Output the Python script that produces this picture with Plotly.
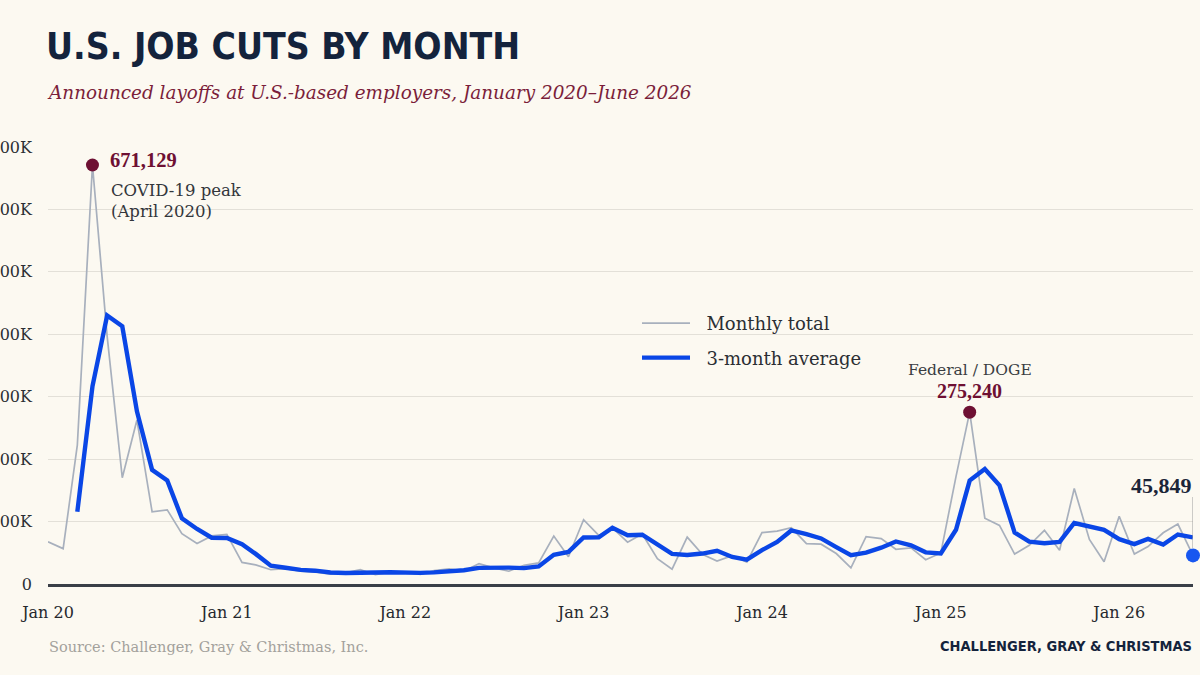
import pandas as pd
import plotly.graph_objects as go

# ---------------- data ----------------
months = pd.date_range("2020-01-01", "2026-06-01", freq="MS")

monthly_total = [
    67735, 56660, 222288, 671129, 397016, 170219, 262649, 115762, 118804, 80666, 64797, 77030,   # 2020
    79552, 34531, 30603, 22913, 24586, 20476, 18942, 15723, 17895, 22822, 14875, 19052,          # 2021
    19064, 15245, 21387, 24286, 20712, 32517, 25810, 20485, 29989, 33843, 76835, 43651,          # 2022
    102943, 77770, 89703, 66995, 80089, 40709, 23697, 75151, 47457, 36836, 45510, 34817,         # 2023
    82307, 84638, 90309, 64789, 63816, 48786, 25885, 75891, 72821, 55597, 57727, 38792,          # 2024
    49795, 172017, 275240, 105441, 93816, 47999, 62075, 85979, 54064, 153074, 71321, 35553,      # 2025
    108435, 48000, 60000, 82000, 96000, 45849,                                                   # 2026
]

three_month_avg = [
    None, None, 115561, 316692, 430144, 412788, 276628, 182877, 165738, 105077, 88089, 74164,
    73793, 63704, 48229, 29349, 26034, 22658, 21335, 18380, 17520, 18813, 18531, 18916,
    17664, 17787, 18565, 20306, 22128, 25838, 26346, 26271, 25428, 28106, 46889, 51443,
    74476, 74788, 90139, 78156, 78929, 62598, 48165, 46519, 48768, 53148, 43268, 39054,
    54211, 67254, 85751, 79912, 72971, 59130, 46162, 50187, 58199, 68103, 62048, 50705,
    48771, 86868, 165684, 184233, 158166, 82419, 67963, 65351, 67373, 97706, 92820, 86649,
    71770, 63996, 72145, 63333, 79333, 74616,
]

y_tick_vals = [0, 100000, 200000, 300000, 400000, 500000, 600000, 700000]
y_tick_text = ["0", "100K", "200K", "300K", "400K", "500K", "600K", "700K"]
x_tick_vals = ["2020-01-01", "2021-01-01", "2022-01-01", "2023-01-01",
               "2024-01-01", "2025-01-01", "2026-01-01"]
x_tick_text = ["Jan 20", "Jan 21", "Jan 22", "Jan 23", "Jan 24", "Jan 25", "Jan 26"]

peak_idx = [3, 62]          # April 2020, March 2025
last_idx = len(monthly_total) - 1

# ---------------- style ----------------
W, H = 1200, 675
L, R, T, B = 48, 7, 147, 91
BG = "#FCF9F1"
NAVY = "#14233C"
MAROON = "#6E1033"
BLUE = "#0A46E6"
GRAY_LINE = "#A8B0BD"
SERIF = "DejaVu Serif"
NUMF = "Liberation Serif"
NARROW = "DejaVu Sans Condensed"

pw, ph = W - L - R, H - T - B


def px(x):
    return (x - L) / pw


def py(y):
    return (H - B - y) / ph


fig = go.Figure()

fig.add_trace(go.Scatter(
    x=months, y=monthly_total, mode="lines", name="\u00a0\u00a0Monthly total",
    line=dict(color=GRAY_LINE, width=1.7), legendgroup="a",
    hoverinfo="skip",
))
fig.add_trace(go.Scatter(
    x=months, y=three_month_avg, mode="lines", name="\u00a0\u00a03-month average",
    line=dict(color=BLUE, width=4.4), legendgroup="b",
    hoverinfo="skip",
))
fig.add_trace(go.Scatter(
    x=[months[i] for i in peak_idx], y=[monthly_total[i] for i in peak_idx],
    mode="markers", marker=dict(color=MAROON, size=13), showlegend=False,
    cliponaxis=False, hoverinfo="skip",
))
fig.add_trace(go.Scatter(
    x=[months[last_idx]], y=[monthly_total[last_idx]],
    mode="markers", marker=dict(color="#1857F0", size=14), showlegend=False,
    cliponaxis=False, hoverinfo="skip",
))

annotations = [
    # subtitle
    dict(text="<i>Announced layoffs at U.S.-based employers, January 2020–June 2026</i>",
         xref="paper", yref="paper", x=px(45), y=py(93), xanchor="left", yanchor="middle",
         showarrow=False, font=dict(family=SERIF, size=18.4, color="#7B1E3A")),
    # source
    dict(text="Source: Challenger, Gray & Christmas, Inc.",
         xref="paper", yref="paper", x=px(47), y=py(647), xanchor="left", yanchor="middle",
         showarrow=False, font=dict(family=SERIF, size=14.5, color="#A3A19C")),
    # brand
    dict(text="<b>CHALLENGER, GRAY & CHRISTMAS</b>",
         xref="paper", yref="paper", x=px(1194), y=py(646), xanchor="right", yanchor="middle",
         showarrow=False, font=dict(family=NARROW, size=14.5, color=NAVY)),
    # covid peak
    dict(text="<b>{:,}</b>".format(monthly_total[3]),
         xref="x", yref="y", x=months[3], y=monthly_total[3], xshift=16, yshift=5,
         xanchor="left", yanchor="middle", showarrow=False,
         font=dict(family=NUMF, size=20.5, color=MAROON)),
    dict(text="COVID-19 peak<br>(April 2020)",
         xref="paper", yref="paper", x=px(109), y=py(201), xanchor="left", yanchor="middle",
         align="left", showarrow=False,
         font=dict(family=SERIF, size=16.5, color="#33363B")),
    # DOGE
    dict(text="Federal / DOGE",
         xref="x", yref="paper", x=months[62], y=py(370), xanchor="center", yanchor="middle",
         showarrow=False, font=dict(family=SERIF, size=15.5, color="#3A3D42")),
    dict(text="<b>{:,}</b>".format(monthly_total[62]),
         xref="x", yref="paper", x=months[62], y=py(391), xanchor="center", yanchor="middle",
         showarrow=False, font=dict(family=NUMF, size=20, color=MAROON)),
    # last value
    dict(text="<b>{:,}</b>".format(monthly_total[last_idx]),
         xref="paper", yref="paper", x=px(1194), y=py(485), xanchor="right", yanchor="middle",
         showarrow=False, font=dict(family=NUMF, size=22, color="#1B2538")),
]

fig.update_layout(
    width=W, height=H,
    margin=dict(l=L, r=R, t=T, b=B, autoexpand=False),
    paper_bgcolor=BG, plot_bgcolor=BG,
    title=dict(text="<b>U.S. JOB CUTS BY MONTH</b>", x=46 / W, xanchor="left",
               xref="container", y=1 - 46 / H, yanchor="middle", yref="container",
               font=dict(family=NARROW, size=37, color=NAVY)),
    showlegend=True,
    legend=dict(x=px(637), y=py(305), xanchor="left", yanchor="top",
                bgcolor="rgba(0,0,0,0)", font=dict(family=SERIF, size=18, color="#2B2E33"),
                itemwidth=48, tracegroupgap=8),
    annotations=annotations,
    shapes=[dict(type="line", xref="x", yref="paper", x0=months[last_idx], x1=months[last_idx],
                 y0=py(548), y1=py(497), line=dict(color="#9C9C9C", width=1))],
    xaxis=dict(type="date", range=[months[0], months[last_idx]],
               tickvals=x_tick_vals, ticktext=x_tick_text, showgrid=False,
               showline=True, linecolor="#3A3F47", linewidth=2.5, ticks="",
               ticklabelstandoff=12, zeroline=False,
               tickfont=dict(family=SERIF, size=16, color="#25282D"), automargin=False),
    yaxis=dict(range=[0, 700000], tickvals=y_tick_vals, ticktext=y_tick_text,
               showgrid=True, gridcolor="#E3E0D8", gridwidth=1, zeroline=False,
               showline=False, ticks="", ticklabelstandoff=15,
               tickfont=dict(family=SERIF, size=16, color="#2B2E33"), automargin=False),
)

fig.write_html("out.html")
